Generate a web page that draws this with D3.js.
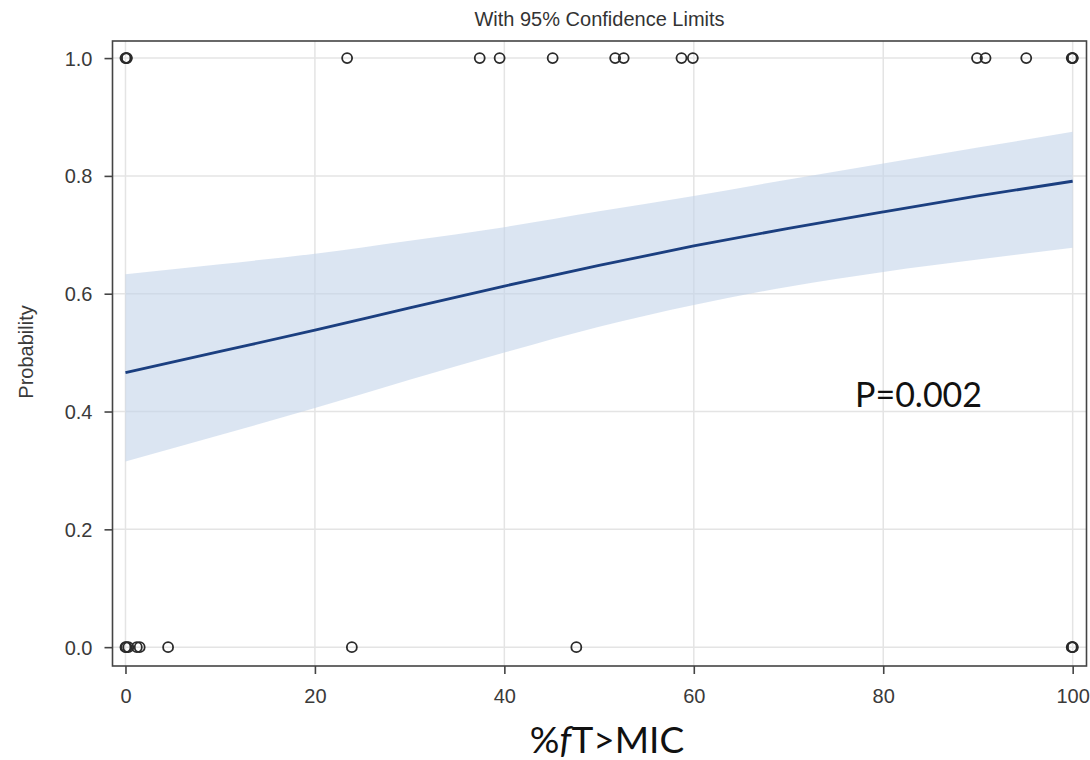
<!DOCTYPE html>
<html>
<head>
<meta charset="utf-8">
<script src="https://d3js.org/d3.v7.min.js"></script>
<style>
  body { margin: 0; background: #fff; }
  .tick-label { font-family: Arial, "Liberation Sans", sans-serif; font-size: 20px; fill: #3a3a3a; }
</style>
</head>
<body>
<svg width="1090" height="760"></svg>
<script>
// fitted curve + 95% limits at every 10 units of %fT>MIC
const fitX = [0, 10, 20, 30, 40, 50, 60, 70, 80, 90, 100];
const fitP = [0.466, 0.502, 0.538, 0.576, 0.613, 0.648, 0.681, 0.711, 0.739, 0.766, 0.791];
const upperP = [0.633, 0.650, 0.668, 0.690, 0.713, 0.740, 0.766, 0.794, 0.821, 0.848, 0.875];
const lowerP = [0.315, 0.360, 0.406, 0.454, 0.500, 0.544, 0.581, 0.612, 0.637, 0.658, 0.678];

// observed outcomes
const successX = [0, 0.1, 0.15, 23.4, 37.4, 39.5, 45.1, 51.7, 52.6, 58.7, 59.9, 89.9, 90.8, 95.1, 99.9, 100, 100];
const failureX = [0, 0.1, 0.3, 1.2, 1.5, 4.5, 23.9, 47.6, 99.9, 100, 100];

const xTicks = [0, 20, 40, 60, 80, 100];
const yTicks = [0.0, 0.2, 0.4, 0.6, 0.8, 1.0];

function main(){
    var svg = d3.select('svg');

    // plot frame
    var left = 112.5, right = 1086.5, top = 41, bottom = 666;

    var x = d3.scaleLinear().domain([-1.37, 101.46]).range([left, right]);
    var y = d3.scaleLinear().domain([-0.032, 1.029]).range([bottom, top]);

    // grid
    svg.append('g').selectAll('line.vg')
        .data(xTicks).enter().append('line')
        .attr('x1', d => x(d)).attr('x2', d => x(d))
        .attr('y1', top).attr('y2', bottom)
        .attr('stroke', '#e4e4e4').attr('stroke-width', 1.5);
    svg.append('g').selectAll('line.hg')
        .data(yTicks).enter().append('line')
        .attr('y1', d => y(d)).attr('y2', d => y(d))
        .attr('x1', left).attr('x2', right)
        .attr('stroke', '#e4e4e4').attr('stroke-width', 1.5);

    var rows = fitX.map((v, i) => ({x: v, p: fitP[i], lo: lowerP[i], hi: upperP[i]}));

    // confidence band
    var band = d3.area()
        .x(d => x(d.x))
        .y0(d => y(d.lo))
        .y1(d => y(d.hi))
        .curve(d3.curveMonotoneX);
    svg.append('path')
        .datum(rows)
        .attr('d', band)
        .attr('fill', '#c3d4ea')
        .attr('fill-opacity', 0.6);

    // fitted line
    var line = d3.line()
        .x(d => x(d.x))
        .y(d => y(d.p))
        .curve(d3.curveMonotoneX);
    svg.append('path')
        .datum(rows)
        .attr('d', line)
        .attr('fill', 'none')
        .attr('stroke', '#1b3f80')
        .attr('stroke-width', 2.8);

    // observed points
    var pts = successX.map(v => ({x: v, y: 1})).concat(failureX.map(v => ({x: v, y: 0})));
    svg.append('g').selectAll('circle')
        .data(pts).enter().append('circle')
        .attr('cx', d => x(d.x))
        .attr('cy', d => y(d.y))
        .attr('r', 5)
        .attr('fill', 'none')
        .attr('stroke', '#2a2a2a')
        .attr('stroke-width', 1.8);

    // frame
    svg.append('rect')
        .attr('x', left).attr('y', top)
        .attr('width', right - left).attr('height', bottom - top)
        .attr('fill', 'none')
        .attr('stroke', '#444')
        .attr('stroke-width', 1.6);

    // axes
    var xAxis = d3.axisBottom(x).tickValues(xTicks).tickSize(8).tickSizeOuter(0).tickFormat(d3.format('d'));
    var gx = svg.append('g')
        .attr('transform', 'translate(0,' + bottom + ')')
        .call(xAxis);
    gx.select('.domain').remove();
    gx.selectAll('line').attr('stroke', '#444').attr('stroke-width', 1.6);
    gx.selectAll('text').attr('class', 'tick-label').attr('dy', null).attr('y', 37)
        .attr('fill', null);

    var yAxis = d3.axisLeft(y).tickValues(yTicks).tickSize(8).tickSizeOuter(0).tickFormat(d3.format('.1f'));
    var gy = svg.append('g')
        .attr('transform', 'translate(' + left + ',0)')
        .call(yAxis);
    gy.select('.domain').remove();
    gy.selectAll('line').attr('stroke', '#444').attr('stroke-width', 1.6);
    gy.selectAll('text').attr('class', 'tick-label').attr('x', -20).attr('dy', '0.35em')
        .attr('fill', null);
    gx.attr('font-size', null).attr('font-family', null);
    gy.attr('font-size', null).attr('font-family', null);

    // titles
    svg.append('text')
        .attr('x', (left + right) / 2)
        .attr('y', 26)
        .attr('text-anchor', 'middle')
        .attr('font-family', 'Arial, "Liberation Sans", sans-serif')
        .attr('font-size', 20)
        .attr('fill', '#333')
        .text('With 95% Confidence Limits');

    svg.append('text')
        .attr('transform', 'translate(33,352) rotate(-90)')
        .attr('text-anchor', 'middle')
        .attr('font-family', 'Arial, "Liberation Sans", sans-serif')
        .attr('font-size', 20)
        .attr('fill', '#3a3a3a')
        .text('Probability');

    var xl = svg.append('text')
        .attr('x', 607)
        .attr('y', 753)
        .attr('text-anchor', 'middle')
        .attr('font-family', 'Lato, "Open Sans", sans-serif')
        .attr('font-size', 37)
        .attr('fill', '#111');
    xl.append('tspan').text('%');
    xl.append('tspan').attr('font-style', 'italic').text('f');
    xl.append('tspan').text('T>MIC');

    svg.append('text')
        .attr('x', 855)
        .attr('y', 407)
        .attr('font-family', 'Lato, "Open Sans", sans-serif')
        .attr('font-size', 34)
        .attr('fill', '#111')
        .text('P=0.002');
}
main();
</script>
</body>
</html>
